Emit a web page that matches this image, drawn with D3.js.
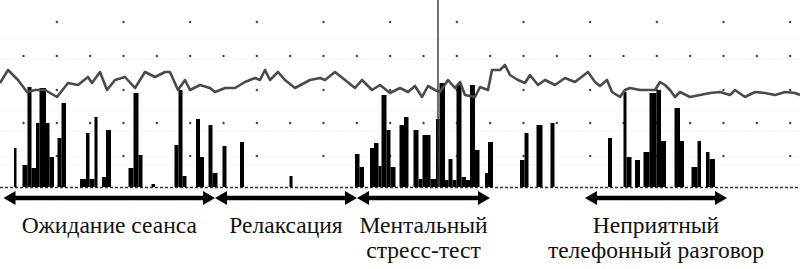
<!DOCTYPE html>
<html>
<head>
<meta charset="utf-8">
<script src="https://cdn.jsdelivr.net/npm/d3@7"></script>
<style>
  body { margin: 0; background: white; }
</style>
</head>
<body>
<div id="chart"></div>
<script>
// Line trace (time, amplitude)
const lineT = [0, 1.6, 3.6, 5.4, 7, 9, 11.4, 13.6, 15.6, 17.6, 18.4, 20, 21.4, 23, 25, 27, 29, 31, 33, 34,
  35.6, 37, 38, 40, 42, 43, 45, 47, 49, 51, 52, 53, 54, 55.6, 57, 59, 62, 64, 65, 67,
  69, 71, 72.4, 74.4, 76, 78, 80, 81.6, 83, 84.4, 85.6, 87, 88, 89.6, 91, 92, 93, 95, 96, 97.6,
  98.4, 100, 101, 102, 103.6, 105, 106, 107.6, 109, 111, 113, 115, 117.6, 119, 120, 121.4, 122.4, 124, 125, 126,
  128, 131, 132, 133, 134, 135, 136, 138, 140, 142, 144, 146, 147, 149, 151, 153, 155, 157, 159, 160];
const lineV = [104, 117, 107, 95, 97, 97, 90, 104, 102, 110, 104, 115, 97, 107, 110, 99, 115, 110, 115, 115,
  97, 107, 97, 102, 99, 95, 99, 99, 105, 109, 107, 117, 107, 115, 107, 99, 107, 109, 107, 115,
  107, 99, 107, 97, 102, 94, 99, 95, 101, 90, 101, 97, 95, 107, 99, 105, 92, 90, 100, 97,
  117, 117, 122, 112, 107, 104, 112, 102, 107, 102, 109, 105, 115, 105, 101, 107, 95, 90, 97, 99,
  97, 97, 105, 102, 97, 90, 95, 90, 92, 94, 95, 92, 97, 90, 95, 94, 92, 95, 94, 92];

// Bars (start time, end time, amplitude)
const barStart = [2.8, 4.5, 5.5, 6.3, 7.2, 7.9, 9.2, 9.9, 11.5, 12.3, 16, 17.2, 17.9, 18.9, 20.4, 21.2,
  25.7, 26.7, 27.7, 30.3, 34.9, 35.7, 36.5, 39.2, 40, 41.7, 42.5, 44.5, 48, 57.9,
  71, 71.9, 74, 74.8, 75.7, 76.3, 77.3, 78.1, 79.9, 80.8, 82.7, 83.7, 84.5, 86.1, 87.2, 87.9,
  89, 89.7, 90.5, 91.3, 92.3, 93.2, 94, 95, 97, 97.6, 104, 104.9, 107.3, 110.1,
  121.6, 124.7, 125.3, 127, 128.7, 129.9, 131.3, 132.2, 134.9, 136, 138.3, 139.5, 141.2, 141.9];
const barEnd = [3.3, 5.5, 6.3, 7.2, 7.9, 9.2, 9.9, 10.8, 12.3, 13.2, 17.2, 17.9, 18.9, 19.5, 21.2, 22.2,
  26.7, 27.7, 28.5, 31, 35.7, 36.5, 37.3, 40, 40.8, 42.5, 43.5, 45.3, 48.8, 58.5,
  71.9, 72.8, 74.8, 75.7, 76.3, 77.3, 78.1, 79.1, 80.8, 81.7, 83.7, 84.5, 86.1, 87.2, 87.9, 89,
  89.7, 90.5, 91.3, 92.3, 93.2, 94, 95, 95.9, 97.6, 98.6, 104.9, 105.7, 108.5, 110.9,
  122.4, 125.3, 126.3, 128, 129.9, 131.3, 132.2, 133.2, 136, 136.8, 139.5, 140.2, 141.9, 143];
const barValue = [39, 22, 100, 19, 64, 99, 64, 30, 49, 84, 8, 54, 8, 70, 10, 57,
  19, 94, 32, 3, 42, 97, 11, 68, 30, 62, 14, 41, 45, 11,
  33, 20, 39, 44, 21, 92, 57, 20, 62, 70, 57, 8, 52, 8, 68, 104,
  7, 28, 7, 102, 10, 7, 102, 37, 14, 45, 27, 54, 62, 64,
  49, 95, 30, 27, 35, 94, 97, 46, 79, 46, 20, 46, 35, 28];

// Grid rows (amplitude) and marker
const gridRows = [31, 64, 97, 131, 165];
const markerT = 87.6;

// Phases
const phaseStart = [0.7, 43, 71.4, 117];
const phaseEnd = [43, 71.4, 98, 145.4];
const phaseLabel = [
  ["Ожидание сеанса"],
  ["Релаксация"],
  ["Ментальный", "стресс-тест"],
  ["Неприятный", "телефонный разговор"]
];

const width = 800, height = 269;
const baseY = 187;

const svg = d3.select("#chart")
  .append("svg")
  .attr("width", width)
  .attr("height", height)
  .style("background", "white");

const x = d3.scaleLinear().domain([0, 160]).range([0, width]);
const y = d3.scaleLinear().domain([0, 167]).range([baseY, 20]);

// faint horizontal texture lines
[148, 128, 76, 56, 30, 22].forEach(v => {
  svg.append("line")
    .attr("x1", 0).attr("x2", width)
    .attr("y1", y(v)).attr("y2", y(v))
    .attr("stroke", "#f0f0f0")
    .attr("stroke-dasharray", "2,1");
});

// dotted grid
const dotStep = 20 / 3;
gridRows.forEach((v, r) => {
  const full = (r === 1 || r === 3);
  for (let k = 0; 4.7 + k * dotStep < 160; k++) {
    if (!full && k % 2 === 0) continue;
    svg.append("circle")
      .attr("cx", x(4.7 + k * dotStep))
      .attr("cy", y(v))
      .attr("r", 1.2)
      .attr("fill", "#444");
  }
});

// baseline
svg.append("line")
  .attr("x1", 0).attr("x2", width)
  .attr("y1", baseY + 0.5).attr("y2", baseY + 0.5)
  .attr("stroke", "#333")
  .attr("stroke-width", 1.3)
  .attr("stroke-dasharray", "3,2");

// bars
svg.selectAll("rect.bar")
  .data(barStart.map((s, i) => ({ s: s, e: barEnd[i], v: barValue[i] })))
  .enter()
  .append("rect")
  .attr("class", "bar")
  .attr("x", d => x(d.s))
  .attr("y", d => y(d.v))
  .attr("width", d => x(d.e) - x(d.s))
  .attr("height", d => y(0) - y(d.v))
  .attr("fill", "#000");

// marker line
svg.append("line")
  .attr("x1", x(markerT)).attr("x2", x(markerT))
  .attr("y1", 0).attr("y2", baseY)
  .attr("stroke", "#333")
  .attr("stroke-width", 1.4);

// trace
const line = d3.line()
  .x((d, i) => x(lineT[i]))
  .y(d => y(d));

svg.append("path")
  .datum(lineV)
  .attr("d", line)
  .attr("fill", "none")
  .attr("stroke", "#4a4a4a")
  .attr("stroke-width", 2.6)
  .attr("stroke-linejoin", "round");

// phase arrows
const arrowY = 198, headL = 12, headH = 7, shaft = 2.2;
phaseStart.forEach((s, i) => {
  const a = x(s), b = x(phaseEnd[i]);
  const p = `M${a},${arrowY} L${a + headL},${arrowY - headH} L${a + headL},${arrowY - shaft}
    L${b - headL},${arrowY - shaft} L${b - headL},${arrowY - headH} L${b},${arrowY}
    L${b - headL},${arrowY + headH} L${b - headL},${arrowY + shaft} L${a + headL},${arrowY + shaft}
    L${a + headL},${arrowY + headH} Z`;
  svg.append("path").attr("d", p).attr("fill", "#000");

  const t = svg.append("text")
    .attr("x", (a + b) / 2)
    .attr("y", 233)
    .attr("text-anchor", "middle")
    .attr("font-family", "Liberation Serif, serif")
    .attr("font-size", "23.5px")
    .attr("fill", "#111");
  phaseLabel[i].forEach((txt, j) => {
    t.append("tspan")
      .attr("x", (a + b) / 2)
      .attr("dy", j === 0 ? 0 : 25)
      .text(txt);
  });
});
</script>
</body>
</html>
